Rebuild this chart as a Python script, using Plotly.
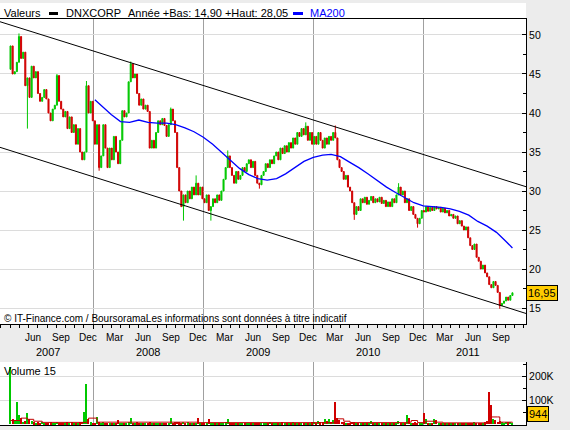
"""DNXCORP weekly candles with MA200, trend channel and volume panel (Boursorama style)."""

import pandas as pd
import plotly.graph_objects as go

# ---------------------------------------------------------------- data
first_week = "2007-04-02"
first_open = 45.6

# weekly closes, one row per month
closes = [
    48.6, 45.0, 45.3, 46.5, 49.8,  # 2007 Apr
    47.0, 47.8, 43.5, 44.5,        # May
    42.0, 46.0, 44.5, 45.3,        # Jun
    42.5, 41.5, 42.0, 43.0, 41.8,  # Jul
    40.0, 39.0, 40.5, 41.0,        # Aug
    44.8, 41.5, 40.5, 39.5,        # Sep
    40.2, 38.0, 39.5, 37.5, 38.5,  # Oct
    36.0, 38.0, 35.0, 34.0,        # Nov
    35.0, 43.5, 40.0, 41.5, 39.0,  # Dec
    36.0, 38.5, 33.0, 34.5,        # 2008 Jan
    38.5, 35.5, 33.0, 35.5,        # Feb
    34.0, 37.0, 35.0, 33.5, 36.5,  # Mar
    40.3, 39.5, 40.0, 44.0,        # Apr
    46.3, 44.5, 45.0, 42.5,        # May
    41.0, 41.8, 40.5, 41.0, 40.2,  # Jun
    35.5, 36.5, 35.5, 37.5,        # Jul
    39.0, 38.5, 39.3, 38.4,        # Aug
    37.0, 38.5, 40.5, 39.0, 37.5,  # Sep
    33.0, 30.0, 28.0, 29.5,        # Oct
    28.5, 30.0, 29.0, 30.5,        # Nov
    29.5, 31.0, 29.5, 30.5, 29.0,  # Dec
    28.5, 29.5, 27.5, 28.0,        # 2009 Jan
    29.0, 28.5, 29.5, 28.8,        # Feb
    30.0, 31.5, 33.0, 34.5, 33.0,  # Mar
    32.0, 31.0, 32.5, 31.5,        # Apr
    32.0, 33.0, 32.5, 33.5,        # May
    34.0, 33.0, 33.8, 32.0, 31.0,  # Jun
    30.8, 32.0, 32.5, 33.5,        # Jul
    33.0, 34.0, 33.5, 34.5, 35.0,  # Aug
    34.0, 35.5, 34.8, 35.8,        # Sep
    35.0, 36.2, 35.5, 36.8,        # Oct
    36.0, 37.5, 37.0, 38.0, 37.2,  # Nov
    38.3, 36.5, 37.5, 36.0,        # Dec
    37.0, 36.0, 37.5, 36.5,        # 2010 Jan
    35.5, 36.8, 36.0, 37.0,        # Feb
    36.5, 37.5, 36.8, 34.0, 33.0,  # Mar
    32.5, 31.5, 32.0, 30.5,        # Apr
    30.0, 28.5, 27.0, 28.0, 27.5,  # May
    29.0, 28.5, 29.2, 28.3,        # Jun
    28.8, 29.3, 28.5, 29.0,        # Jul
    28.6, 29.2, 28.4, 28.8, 28.0,  # Aug
    28.6, 28.0, 29.0, 28.5,        # Sep
    29.5, 30.5, 29.5, 30.0,        # Oct
    28.5, 29.0, 27.5, 28.0, 27.0,  # Nov
    26.5, 25.8, 26.5, 27.5,        # Dec
    27.3, 28.0, 27.4, 27.9, 27.5,  # 2011 Jan
    28.0, 27.7, 27.9, 27.3,        # Feb
    27.8, 27.2, 27.5, 26.8,        # Mar
    27.0, 26.5, 26.8, 25.8,        # Apr
    26.2, 25.5, 25.0, 25.4, 24.0,  # May
    23.0, 22.5, 23.2, 21.5,        # Jun
    21.0, 20.0, 20.5, 19.5,        # Jul
    19.0, 18.0, 17.6, 18.4, 17.9,  # Aug
    17.0, 15.3, 15.6, 15.9,        # Sep
    16.4, 16.0, 16.6, 16.95,       # Oct
]

# weeks whose shadow reaches past the body
wick_weeks = ["2007-04-30", "2007-05-28", "2007-09-03", "2007-12-10", "2008-01-21",
              "2008-05-05", "2008-09-15", "2008-10-27", "2008-12-08", "2009-01-26",
              "2009-03-23", "2009-07-06", "2009-12-07", "2010-03-15", "2010-05-17",
              "2010-10-11", "2010-12-13", "2011-09-12"]
wick_lows = [None, 38.0, None, None, 32.6, None, None, 26.2, None, 26.2,
             None, 30.3, None, None, 26.3, None, 25.3, 14.9]
wick_highs = [50.2, None, 45.0, 44.1, None, 46.6, 40.7, None, 32.0, None,
              35.2, None, 38.8, 38.4, None, 31.0, None, None]

# weekly volume, thousands of shares
volumes = [
    240, 23, 12, 93, 40,  27, 10, 12, 47,  20, 15, 8, 6,  7, 5, 9, 6, 4,
    6, 8, 5, 4,  9, 5, 4, 6,  5, 7, 4, 8, 5,  6, 4, 7, 9,  50, 170, 23, 8, 5,
    6, 30, 8, 5,  7, 5, 6, 4,  5, 6, 4, 17, 5,  6, 5, 4, 8,  24, 6, 5, 7,
    4, 6, 5, 3, 4,  8, 5, 6, 4,  5, 4, 6, 3,  4, 6, 24, 5, 7,  10, 8, 6, 9,
    5, 7, 4, 6,  5, 6, 27, 4, 5,
    5, 4, 20, 6,  4, 5, 3, 4,  5, 6, 8, 20, 6,  5, 4, 6, 3,  4, 5, 3, 6,
    5, 4, 3, 4, 5,  6, 4, 5, 3,  4, 10, 5, 4, 6,  5, 3, 8, 4,  4, 6, 5, 7,
    5, 4, 6, 3, 5,  6, 4, 5, 7,
    10, 6, 15, 8,  7, 20, 12, 22,  10, 18, 93, 27, 18,  10, 8, 6, 5,
    6, 9, 7, 5, 4,  5, 4, 6, 4,  5, 15, 4, 5,  4, 5, 3, 4, 5,  4, 6, 5, 4,
    6, 12, 5, 4,  5, 40, 25, 6, 5,  7, 5, 4, 6,
    45, 20, 6, 5, 4,  20, 18, 6, 5,  5, 4, 6, 4,  4, 5, 3, 4,  5, 4, 6, 5, 4,
    6, 5, 7, 5,  5, 6, 4, 8,  12, 135, 80, 22, 18,  10, 12, 8, 6,  9, 7, 10, 0.944,
]

# 200-day moving average
ma_dates = ["2008-01-07", "2008-02-01", "2008-03-01", "2008-04-01", "2008-05-01", "2008-06-01",
            "2008-07-01", "2008-08-01", "2008-09-01", "2008-10-01", "2008-11-01", "2008-12-01",
            "2009-01-01", "2009-02-01", "2009-03-01", "2009-04-01", "2009-05-01", "2009-06-01",
            "2009-07-01", "2009-08-01", "2009-09-01", "2009-10-01", "2009-11-01", "2009-12-01",
            "2010-01-01", "2010-02-01", "2010-03-01", "2010-04-01", "2010-05-01", "2010-06-01",
            "2010-07-01", "2010-08-01", "2010-09-01", "2010-10-01", "2010-11-01", "2010-12-01",
            "2011-01-01", "2011-02-01", "2011-03-01", "2011-04-01", "2011-05-01", "2011-06-01",
            "2011-07-01", "2011-08-01", "2011-09-01", "2011-10-01", "2011-10-24"]
ma200 = [41.7, 40.8, 39.8, 38.9, 38.8, 39.1, 38.8, 38.7, 38.7, 38.5, 38.1, 37.6,
         36.9, 36.0, 35.0, 33.9, 32.9, 32.1, 31.6, 31.4, 31.6, 32.2, 33.0, 33.8,
         34.3, 34.6, 34.7, 34.4, 33.7, 33.0, 32.2, 31.3, 30.5, 29.8, 29.1, 28.5,
         28.1, 28.0, 27.9, 27.7, 27.4, 26.9, 26.1, 25.5, 24.7, 23.6, 22.7]

# 15-period volume average (thousands)
vol_ma_dates = ["2007-04-02", "2007-05-07", "2007-05-28", "2007-06-18", "2007-07-16",
                "2007-11-26", "2007-12-10", "2007-12-17", "2008-01-07", "2008-01-14",
                "2008-12-15", "2010-03-15", "2010-03-22", "2010-04-12", "2010-05-03",
                "2010-11-08", "2010-11-22", "2010-12-13", "2011-01-10", "2011-02-07",
                "2011-03-07", "2011-08-08", "2011-08-15", "2011-09-05", "2011-09-12",
                "2011-10-24"]
vol_ma = [15, 25, 20, 12, 7, 7, 8, 25, 25, 8, 6, 8, 22, 12, 6, 8, 15, 6, 12, 8,
          5, 6, 30, 30, 8, 6]

# trend channel, values at the two ends of the date axis
channel_dates = ["2007-02-26", "2011-12-08"]
upper_channel = [51.7, 30.55]
lower_channel = [35.6, 14.3]

price_ticks = [15, 20, 25, 30, 35, 40, 45, 50]
volume_ticks = [100, 200]
volume_ticktext = ["100K", "200K"]
year_labels = ["2007", "2008", "2009", "2010", "2011"]
year_label_dates = ["2007-08-04", "2008-07-01", "2009-07-01", "2010-07-01", "2011-05-29"]
month_names = {3: "Mar", 6: "Jun", 9: "Sep", 12: "Dec"}

# ---------------------------------------------------------------- styling
W, H = 570, 430
PLOT_R = 526          # px of the right-hand axis
GREEN, RED, BLUE = "#00c800", "#d00000", "#0000ff"
GRID, YEARGRID = "#dcdcdc", "#a0a0a0"
BG = "#ececec"
FONT = "Liberation Sans, Arial, sans-serif"


def px_x(x):
    return x / PLOT_R


def px_y(y):
    return (H - y) / H


dates = pd.date_range(first_week, periods=len(closes), freq="W-MON")
assert len(volumes) == len(closes)

opens = [first_open] + closes[:-1]
highs = [max(o, c) for o, c in zip(opens, closes)]
lows = [min(o, c) for o, c in zip(opens, closes)]
pos = {d.strftime("%Y-%m-%d"): i for i, d in enumerate(dates)}
for d, lo, hi in zip(wick_weeks, wick_lows, wick_highs):
    i = pos[d]
    if lo is not None:
        lows[i] = min(lows[i], lo)
    if hi is not None:
        highs[i] = max(highs[i], hi)
bar_colors = [GREEN if c >= o else RED for o, c in zip(opens, closes)]

fig = go.Figure()
fig.add_trace(go.Candlestick(
    x=dates, open=opens, high=highs, low=lows, close=closes,
    increasing=dict(line=dict(color=GREEN, width=1), fillcolor=GREEN),
    decreasing=dict(line=dict(color=RED, width=1), fillcolor=RED),
    whiskerwidth=0, showlegend=False, hoverinfo="skip", xaxis="x", yaxis="y",
))
for vals in (upper_channel, lower_channel):
    fig.add_trace(go.Scatter(x=channel_dates, y=vals, mode="lines",
                             line=dict(color="black", width=1), showlegend=False,
                             hoverinfo="skip", xaxis="x", yaxis="y"))
fig.add_trace(go.Scatter(x=ma_dates, y=ma200, mode="lines", line=dict(color=BLUE, width=1.3),
                         showlegend=False, hoverinfo="skip", xaxis="x", yaxis="y"))

fig.add_trace(go.Bar(x=dates, y=volumes, marker=dict(color=bar_colors, line=dict(width=0)),
                     width=4 * 86400000, showlegend=False, hoverinfo="skip",
                     xaxis="x2", yaxis="y2"))
fig.add_trace(go.Scatter(x=vol_ma_dates, y=vol_ma, mode="lines", line_shape="hv",
                         line=dict(color="#c00000", width=1), showlegend=False,
                         hoverinfo="skip", xaxis="x2", yaxis="y2"))

x_range = channel_dates
year_starts = ["2008-01-01", "2009-01-01", "2010-01-01", "2011-01-01"]
month_starts = pd.date_range("2007-03-01", "2011-12-01", freq="MS")

common_x = dict(type="date", range=x_range, showline=True, linecolor="black", linewidth=1,
                tickvals=year_starts, showticklabels=False, showgrid=True,
                gridcolor=YEARGRID, gridwidth=1, zeroline=False, fixedrange=True)
fig.update_layout(
    width=W, height=H, margin=dict(l=0, r=W - PLOT_R, t=0, b=0),
    paper_bgcolor=BG, plot_bgcolor="white", font=dict(family=FONT, size=11, color="black"),
    bargap=0,
    xaxis=dict(**common_x, domain=[0, 1], anchor="y", mirror=True,
               ticks="outside", ticklen=4, tickcolor="black",
               minor=dict(tickvals=month_starts, ticks="outside", ticklen=3,
                          tickcolor="black", showgrid=False),
               rangeslider=dict(visible=False)),
    yaxis=dict(domain=[px_y(324), px_y(19)], anchor="x", side="right", range=[12.95, 52.05],
               tickvals=price_ticks, ticks="inside", ticklen=4, tickcolor="black",
               showline=True, linecolor="black", gridcolor=GRID, zeroline=False,
               tickfont=dict(size=10.5), fixedrange=True,
               minor=dict(tickvals=[t + 2.5 for t in price_ticks[:-1]], ticks="inside",
                          ticklen=3, tickcolor="black", showgrid=False)),
    xaxis2=dict(**common_x, domain=[0, 1], anchor="y2", matches="x", ticks=""),
    yaxis2=dict(domain=[px_y(425), px_y(362)], anchor="x2", side="right", range=[-4, 262],
                tickvals=volume_ticks, ticktext=volume_ticktext, ticks="inside", ticklen=4,
                tickcolor="black", showline=True, linecolor="black", gridcolor=GRID,
                zeroline=False, tickfont=dict(size=10.5), fixedrange=True,
                minor=dict(tickvals=[50, 150, 250], ticks="inside", ticklen=3,
                           tickcolor="black", showgrid=False)),
)

# header band and legend keys
fig.add_shape(type="rect", xref="paper", yref="paper", x0=0, x1=1, y0=px_y(19), y1=px_y(3),
              fillcolor="white", line_width=0, layer="below")
fig.add_shape(type="rect", xref="paper", yref="paper", x0=px_x(49), x1=px_x(58),
              y0=px_y(15), y1=px_y(12), fillcolor="black", line_width=0)
fig.add_shape(type="rect", xref="paper", yref="paper", x0=px_x(293), x1=px_x(303),
              y0=px_y(15), y1=px_y(12), fillcolor=BLUE, line_width=0)


def label(text, x, y, color="black", size=11, anchor="left", xref="paper", yref="paper", **kw):
    fig.add_annotation(text=text, x=x, y=y, xref=xref, yref=yref, xanchor=anchor,
                       yanchor="middle", showarrow=False,
                       font=dict(family=FONT, size=size, color=color), **kw)


label("Valeurs", px_x(2), px_y(13))
label("DNXCORP", px_x(64), px_y(13))
label("Année +Bas: 14,90 +Haut: 28,05", px_x(126), px_y(13))
label("MA200", px_x(308), px_y(13), color=BLUE)
label("© IT-Finance.com / BoursoramaLes informations sont données à titre indicatif",
      px_x(2), px_y(318), size=10)
label("Volume 15", px_x(2), px_y(371))

for d in month_starts:
    if d.month in month_names and pd.Timestamp("2007-04-01") < d < pd.Timestamp("2011-10-01"):
        label(month_names[d.month], d + pd.Timedelta(days=14), px_y(337), size=10,
              anchor="center", xref="x")
for text, d in zip(year_labels, year_label_dates):
    label(text, d, px_y(352), size=11, anchor="center", xref="x")

last_close = f"{closes[-1]:.2f}".replace(".", ",")
label(last_close, px_x(542), closes[-1], anchor="center", yref="y",
      bgcolor="#ffcc00", bordercolor="black", borderwidth=1, borderpad=1)
label(f"{volumes[-1] * 1000:.0f}", px_x(538), px_y(414), anchor="center",
      bgcolor="#ffcc00", bordercolor="black", borderwidth=1, borderpad=1)

# the page's default body margin would push the figure out of the window
fig.write_html("out.html", config={"displayModeBar": False},
               post_script=f"document.body.style.margin='0';"
                           f"document.body.style.background='{BG}';")
